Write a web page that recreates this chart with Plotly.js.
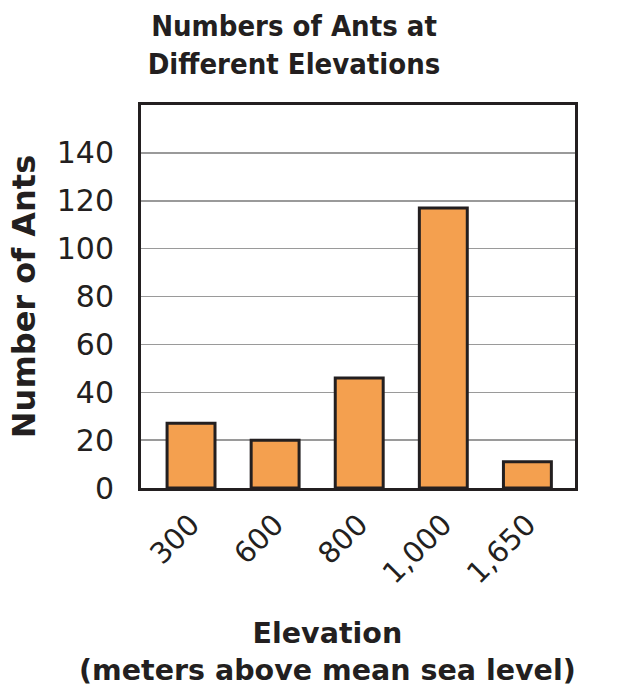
<!DOCTYPE html>
<html>
<head>
<meta charset="utf-8">
<script src="https://cdn.plot.ly/plotly-3.0.1.min.js"></script>
<style>html,body{margin:0;padding:0;background:#fff;}#chart{width:637px;height:687px;}</style>
</head>
<body>
<div id="chart"></div>
<script>
const elevations = ["300", "600", "800", "1,000", "1,650"];
const antCounts = [27, 20, 46, 117, 11];
const yTickVals = [0, 20, 40, 60, 80, 100, 120, 140];

const FONT = "DejaVu Sans, Verdana, sans-serif";
const TFONT = "DejaVu Sans Condensed, DejaVu Sans, sans-serif";
const INK = "#231f20";

const trace = {
  type: "bar",
  x: elevations,
  y: antCounts,
  width: 0.57,
  marker: {color: "#f4a04f", line: {color: INK, width: 3}},
  hoverinfo: "skip"
};

const layout = {
  width: 637, height: 687,
  margin: {l: 141, r: 62, t: 105, b: 199, pad: 0},
  paper_bgcolor: "#fff", plot_bgcolor: "#fff",
  showlegend: false,
  font: {family: FONT, color: INK},
  title: {
    text: "<b>Numbers of Ants at<br>Different Elevations</b>",
    font: {family: TFONT, size: 29, color: INK},
    x: 294 / 637, xanchor: "center", xref: "container",
    y: 1 - 36 / 687, yanchor: "top", yref: "container"
  },
  xaxis: {
    type: "category",
    range: [-0.595, 4.566],
    tickangle: -45,
    tickfont: {family: FONT, size: 29, color: INK},
    showline: true, mirror: true, linecolor: INK, linewidth: 3,
    ticks: "outside", ticklen: 5, tickcolor: "rgba(0,0,0,0)",
    showgrid: false, zeroline: false, fixedrange: true
  },
  yaxis: {
    range: [0, 160],
    tickvals: yTickVals,
    ticktext: yTickVals.map(String),
    tickfont: {family: FONT, size: 30, color: INK},
    showline: true, mirror: true, linecolor: INK, linewidth: 3,
    ticks: "outside", ticklen: 18, tickcolor: "rgba(0,0,0,0)",
    showgrid: true, gridcolor: "#9a9a9a", gridwidth: 1.5,
    zeroline: false, fixedrange: true,
    title: {text: "<b>Number of Ants</b>", font: {family: FONT, size: 32, color: INK}, standoff: 12}
  },
  annotations: [{
    text: "<b>Elevation<br>(meters above mean sea level)</b>",
    xref: "paper", yref: "paper",
    x: (327 - 141) / 434, y: -(615 - 488) / 383,
    xanchor: "center", yanchor: "top",
    showarrow: false,
    font: {family: FONT, size: 28.5, color: INK}
  }]
};

Plotly.newPlot("chart", [trace], layout, {displayModeBar: false, staticPlot: true});
</script>
</body>
</html>
